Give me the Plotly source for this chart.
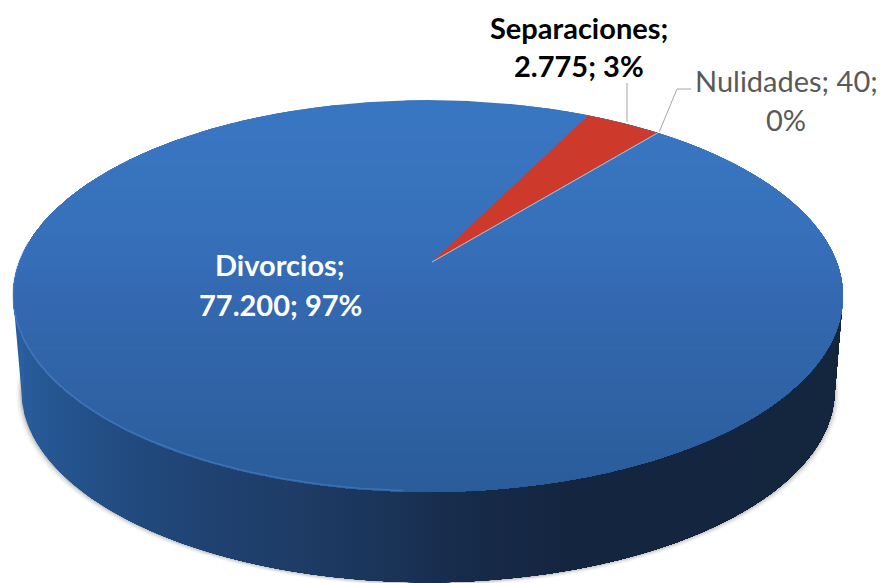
import numpy as np
import plotly.graph_objects as go

categories = ["Divorcios", "Separaciones", "Nulidades"]
values = [77200, 2775, 40]
value_labels = ["77.200", "2.775", "40"]
percent_labels = ["97%", "3%", "0%"]
rotation_deg = 39.6

W, H = 880, 583
CX, CY = 428.0, 262.0
APEX_X = 432.0
A, B, K = 190.0, 408.7, 0.1736
LOW_S, LOW_CY = 0.98, 357.0
FONT = "Lato"


def project(theta, s=1.0, cy=CY, cx=CX):
    u, v = np.sin(theta), np.cos(theta)
    w = 1 + K * v
    return cx + s * B * u / w, cy - s * A * v / w


def hex_rgb(c):
    return np.array([int(c[i:i + 2], 16) for i in (1, 3, 5)], dtype=float)


def ramp(pos, stops):
    xs = [p for p, _ in stops]
    rgb = np.array([hex_rgb(c) for _, c in stops])
    return "rgb(%d,%d,%d)" % tuple(np.interp(pos, xs, rgb[:, i]) for i in range(3))


def poly(x, y, color, line=None, width=0):
    return go.Scatter(x=list(x), y=list(y), mode="lines", fill="toself", fillcolor=color,
                      line=dict(color=line or "rgba(0,0,0,0)", width=width), hoverinfo="skip", showlegend=False)


fig = go.Figure()
theta = np.linspace(0, 2 * np.pi, 1441)
tx, ty = project(theta)
lx, ly = project(theta, LOW_S, LOW_CY)

# bottom arc of the lower rim, ordered left to right, between its widest points
tilt = np.arcsin(K)
front = np.linspace(1.5 * np.pi - tilt, 0.5 * np.pi + tilt, 500)
bx, by = project(front, LOW_S, LOW_CY)
left_i, right_i = np.argmin(tx), np.argmax(tx)
tl = (tx[left_i], ty[left_i])
tr = (tx[right_i], ty[right_i])

# soft shadow under the rim
for grow, dy, alpha in [(5, 4, 0.05), (3.5, 3, 0.07), (2, 2, 0.10), (1, 1, 0.14)]:
    fig.add_trace(poly(lx + np.sign(lx - CX) * grow * np.abs(np.sin(theta)), ly + dy, f"rgba(70,70,70,{alpha})"))

# rim: horizontal shading, painted left to right
side_stops = [(15, "#2a5e9f"), (60, "#25558f"), (130, "#224b80"), (200, "#204373"), (300, "#1e3c66"),
              (400, "#1a3357"), (470, "#172b4a"), (560, "#152641"), (850, "#14253e")]
fig.add_trace(poly(list(bx) + [tr[0], tl[0]], list(by) + [tr[1], tl[1]], ramp(15, side_stops)))
for x0 in np.arange(24, 832, 8):
    keep = bx >= x0
    y0 = float(np.interp(x0, bx, by))
    fig.add_trace(poly([x0] + list(bx[keep]) + [tr[0], x0], [y0] + list(by[keep]) + [tr[1], 300], ramp(x0 + 4, side_stops)))

# top face: vertical shading, painted top to bottom
top_stops = [(100, "#3a77c3"), (230, "#3771bb"), (300, "#3469b1"), (400, "#2f63a5"), (495, "#2b5c9a")]
for y0 in np.arange(99, 495, 6):
    keep = ty >= y0
    fig.add_trace(poly(tx[keep], ty[keep], ramp(y0 + 3, top_stops)))

# lighter bevel on the front-left edge
bevel = np.linspace(1.5 * np.pi + 0.1, np.pi + 0.05, 200)
ex, ey = project(bevel)
fig.add_trace(go.Scatter(x=ex, y=ey - 1, mode="lines", line=dict(color="rgba(90,145,215,0.4)", width=1.5),
                         hoverinfo="skip", showlegend=False))

# slices after the first, from the values
total = sum(values)
angle = np.radians(rotation_deg)
ends = angle + 2 * np.pi * np.cumsum(values) / total
starts = ends - 2 * np.pi * np.array(values) / total
slice_colors = {1: "#cd3a2c", 2: "#a9adb5"}
for i in (1, 2):
    a = np.linspace(starts[i], ends[i], 40)
    ax, ay = project(a)
    line = "rgba(170,175,190,0.9)" if i == 2 else None
    fig.add_trace(poly([APEX_X] + list(ax) + [APEX_X], [CY] + list(ay) + [CY], slice_colors[i], line, 1 if i == 2 else 0))

# leader lines
sep_x, sep_y = project(np.array([(starts[1] + ends[1]) / 2]))
nul_x, nul_y = project(np.array([(starts[2] + ends[2]) / 2]))
fig.add_trace(go.Scatter(x=[627, 627], y=[sep_y[0] - 1, 83], mode="lines",
                         line=dict(color="#a6a6a6", width=1), hoverinfo="skip", showlegend=False))
fig.add_trace(go.Scatter(x=[nul_x[0] + 2, 677, 691], y=[nul_y[0] - 1, 89, 89], mode="lines",
                         line=dict(color="#a6a6a6", width=1), hoverinfo="skip", showlegend=False))

labels = [
    (f"<b>{categories[1]};</b>", 579, 27, "#000000", 29),
    (f"<b>{value_labels[1]}; {percent_labels[1]}</b>", 579, 65, "#000000", 29),
    (f"{categories[2]}; {value_labels[2]};", 786, 80, "#595959", 29),
    (percent_labels[2], 786, 119, "#595959", 29),
    (f"<b>{categories[0]};</b>", 280, 264, "#ffffff", 29),
    (f"<b>{value_labels[0]}; {percent_labels[0]}</b>", 280, 304, "#ffffff", 29),
]
for text, x, y, color, size in labels:
    fig.add_annotation(x=x, y=y, text=text, showarrow=False, xanchor="center", yanchor="middle",
                       font=dict(family=FONT, size=size, color=color))

fig.update_layout(width=W, height=H, margin=dict(l=0, r=0, t=0, b=0), paper_bgcolor="white", plot_bgcolor="white",
                  showlegend=False,
                  xaxis=dict(range=[0, W], visible=False, fixedrange=True),
                  yaxis=dict(range=[H, 0], visible=False, fixedrange=True))
fig.write_html("out.html", config={"displayModeBar": False},
               post_script="document.body.style.margin='0';document.documentElement.style.overflow='hidden';")
